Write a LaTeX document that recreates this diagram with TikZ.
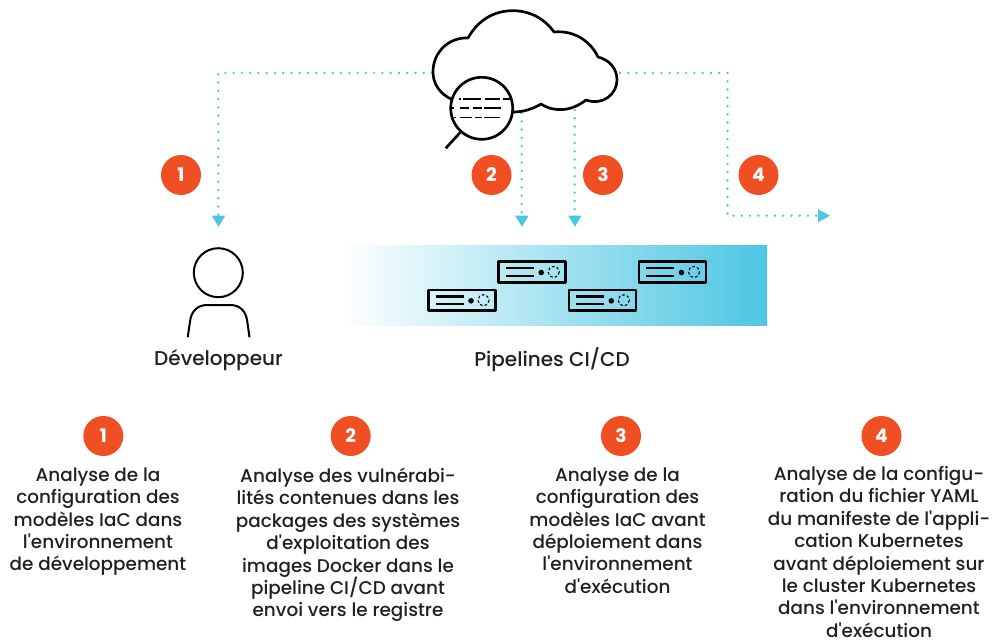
\documentclass[tikz,border=0pt]{standalone}
\usepackage{fontspec}
\setmainfont{Poppins Medium}[BoldFont={Poppins Bold},Ligatures=TeXOff]
\usetikzlibrary{arrows.meta}
\definecolor{cyanb}{HTML}{4DC6E3}
\definecolor{orangeb}{HTML}{F04E23}
\definecolor{inkb}{HTML}{231F20}
\tikzset{
  x=0.75pt,y=-0.75pt,
  outline/.style={draw=black,line width=2pt,line join=round},
  thinoutline/.style={draw=black,line width=1.5pt},
  dotline/.style={draw=cyanb,line width=2pt,line cap=round,dash pattern=on 0pt off 6.2pt},
  tiparrow/.style={fill=cyanb,draw=none},
  badge/.style={circle,fill=orangeb,minimum size=30pt,inner sep=0pt,text=white,font=\fontsize{14}{14}\selectfont\bfseries},
  caption/.style={text=inkb,font=\fontsize{13.8}{16.8}\selectfont,align=center,inner sep=0pt,anchor=north},
  iconlabel/.style={text=inkb,font=\fontsize{15}{16.8}\selectfont,inner sep=0pt},
  serverbox/.style={draw=black,line width=1.9pt,line join=round},
  serverbar/.style={draw=black,line width=1.7pt},
  lensline/.style={draw=black,line width=1.1pt},
}
\newcommand{\serverat}[2]{%
  \begin{scope}[shift={(#1,#2)}]
    \draw[serverbox] (0,0) rectangle (67,20.6);
    \draw[serverbar] (7,6.5) -- (35,6.5);
    \draw[serverbar] (7,14) -- (35,14);
    \fill[black] (42.5,10.8) circle (2.8);
    \draw[draw=black,line width=0.8pt,dash pattern=on 2pt off 1.6pt] (55,10.3) circle (5.6);
  \end{scope}}
\begin{document}
\begin{tikzpicture}
\useasboundingbox (0,0) rectangle (992,642);
% gradient band
\shade[left color=white,right color=cyanb,shading angle=90,draw=none] (340,245) rectangle (767,325);
\serverat{498.7}{261.7}
\serverat{428.5}{290}
\serverat{568.8}{290}
\serverat{639}{261.7}
% named coordinates
\coordinate (cl) at (432,73);
\coordinate (cr) at (620,73);
\coordinate (b1) at (218.3,73);
\coordinate (e1) at (218.3,216);
\coordinate (s2) at (521.7,113);
\coordinate (e2) at (521.7,216);
\coordinate (s3) at (574.7,110);
\coordinate (e3) at (574.7,216);
\coordinate (b4a) at (727.5,73);
\coordinate (b4b) at (727.5,215.7);
\coordinate (e4) at (817,215.7);
\draw[dotline] (cl) -- (b1) -- (e1);
\draw[dotline] (s2) -- (e2);
\draw[dotline] (s3) -- (e3);
\draw[dotline] (cr) -- (b4a) -- (b4b) -- (e4);
\fill[tiparrow] (211.8,215.7) -- (225.2,215.7) -- (218.5,226.7) -- cycle;
\fill[tiparrow] (515.2,215.7) -- (528.6,215.7) -- (521.9,226.7) -- cycle;
\fill[tiparrow] (568.2,215.7) -- (581.6,215.7) -- (574.9,226.7) -- cycle;
\fill[tiparrow] (818,209.2) -- (830,215.7) -- (818,222.2) -- cycle;
% cloud
\draw[outline,fill=white] (452,99.5)
  .. controls (440,94) and (433,84) .. (433,72)
  .. controls (433,52) and (449,37) .. (468,38)
  .. controls (478,20) and (494,10.7) .. (513,10.7)
  .. controls (530,10.7) and (545,19) .. (554,32)
  .. controls (575,30) and (591,42) .. (598,57)
  .. controls (610,60) and (617,69) .. (617,80)
  .. controls (617,94) and (603,106) .. (586,100)
  .. controls (572,111) and (555,113) .. (541,104)
  .. controls (533,109) and (523,112) .. (513,112);
% magnifier
\draw[outline,fill=white] (481.7,108.3) circle (31);
\coordinate (hs) at (460,132.7);
\coordinate (he) at (445.7,148.3);
\draw[outline] (hs) -- (he);
\draw[lensline] (459,99) -- (461,99) (463,99) -- (481,99) (485,99) -- (500,99) (503,99) -- (510,99);
\draw[lensline] (452,108) -- (454,108) (460,108) -- (469,108) (473,108) -- (482,108) (484,108) -- (501,108);
\draw[lensline] (454,117.5) -- (456,117.5) (460,117.5) -- (472,117.5) (475,117.5) -- (482,117.5) (484,117.5) -- (500,117.5);
% person
\draw[thinoutline] (218.3,272.7) circle (24.5);
\draw[thinoutline] (187.7,337.3) -- (190,321.7)
  .. controls (191,311) and (198,305) .. (207,305) -- (230,305)
  .. controls (240,305) and (246,311) .. (247.3,321.7) -- (249.5,337.3);
% labels
\node[iconlabel] (dev) at (218.5,360) {Développeur};
\node[iconlabel] (pipe) at (552,360) {Pipelines CI/CD};
% badges
\node[badge] (a1) at (181,175) {1};
\node[badge] (a2) at (491.5,175) {2};
\node[badge] (a3) at (603,175) {3};
\node[badge] (a4) at (758.5,175) {4};
\node[badge] (n1) at (103.3,436) {1};
\node[badge] (n2) at (350.7,436) {2};
\node[badge] (n3) at (621,436) {3};
\node[badge] (n4) at (881.5,436) {4};
% captions
\node[caption] (t1) at (98,467.5) {Analyse de la\\configuration des\\modèles IaC dans\\l'environnement\\de développement};
\node[caption] (t2) at (348,467.5) {Analyse des vulnérabi-\\lités contenues dans les\\packages des systèmes\\d'exploitation des\\images Docker dans le\\pipeline CI/CD avant\\envoi vers le registre};
\node[caption] (t3) at (617.5,467.5) {Analyse de la\\configuration des\\modèles IaC avant\\déploiement dans\\l'environnement\\d'exécution};
\node[caption] (t4) at (879,466) {Analyse de la configu-\\ration du fichier YAML\\du manifeste de l'appli-\\cation Kubernetes\\avant déploiement sur\\le cluster Kubernetes\\dans l'environnement\\d'exécution};
\end{tikzpicture}
\end{document}
